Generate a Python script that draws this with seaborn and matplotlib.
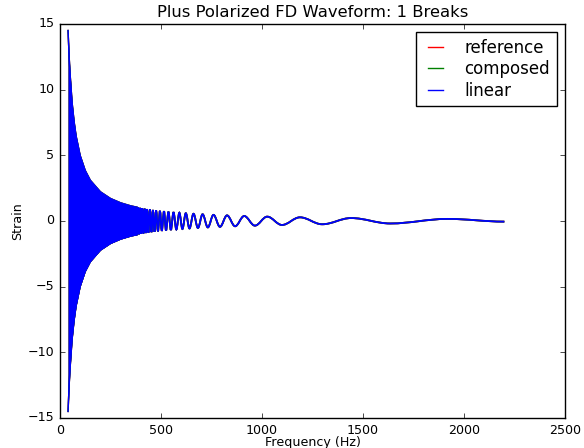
import matplotlib
matplotlib.use("Agg")
import matplotlib.pyplot as plt
from matplotlib.path import Path
from matplotlib.patches import PathPatch
import numpy as np
import pandas as pd
import seaborn as sns

# dense (unresolved) part of the chirp: upper envelope, symmetric about zero
band_freq = [40, 45, 50, 60, 70, 80, 100, 125, 150, 200, 250, 300, 350, 381]
band_amp = [14.5, 12.6, 11.2, 9.0, 7.55, 6.45, 4.98, 3.84, 3.10, 2.22, 1.71, 1.38, 1.15, 1.05]

# resolved oscillations: extrema (Hz, strain)
wave_freq = [381, 386, 391, 396, 401, 407, 413, 419, 425, 431, 438, 445, 453, 460,
             468, 476, 485, 495, 504, 515, 525, 537, 549, 562, 576, 591, 606, 623,
             641, 661, 683, 706, 732, 760, 792, 827, 867, 912, 965, 1026, 1099, 1188,
             1298, 1441, 1635, 1919, 2200]
wave_strain = [-1.046, 1.030, -1.015, 1.000, -0.985, 0.969, -0.952, 0.936, -0.921, 0.906,
               -0.889, 0.873, -0.855, 0.840, -0.823, 0.807, -0.789, 0.771, -0.755, 0.736,
               -0.720, 0.701, -0.683, 0.665, -0.646, 0.627, -0.609, 0.589, -0.570, 0.550,
               -0.529, 0.509, -0.488, 0.467, -0.445, 0.424, -0.401, 0.378, -0.354, 0.329,
               -0.304, 0.278, -0.250, 0.222, -0.191, 0.158, -0.05]

series_names = ["reference", "composed", "linear"]
series_colors = ["r", "g", "b"]


def smooth_wave_path(freq, strain, k=0.36):
    """Bezier path through the extrema, flat at every turning point."""
    verts = [(freq[0], strain[0])]
    codes = [Path.MOVETO]
    for i in range(1, len(freq)):
        d = freq[i] - freq[i - 1]
        verts += [(freq[i - 1] + k * d, strain[i - 1]),
                  (freq[i] - k * d, strain[i]),
                  (freq[i], strain[i])]
        codes += [Path.CURVE4] * 3
    return Path(verts, codes)


def make_plot():
    plt.style.use("classic")
    plt.rcParams["font.family"] = ["DejaVu Sans"]
    plt.rcParams["figure.facecolor"] = "white"
    plt.rcParams["savefig.facecolor"] = "white"

    fig = plt.figure(figsize=(5.84, 4.48), dpi=100)
    ax = fig.add_axes([0.1027, 0.067, 0.8647, 0.8795])

    band = pd.DataFrame({"freq": band_freq, "amp": band_amp})
    band["low"] = -band["amp"]

    for z, (name, col) in enumerate(zip(series_names, series_colors)):
        ax.fill_between(band["freq"], band["low"], band["amp"], color=col, lw=0, zorder=2 + z)
        sns.lineplot(data=band, x="freq", y="amp", color=col, lw=1.0, estimator=None,
                     label=name, zorder=2 + z, ax=ax)
        sns.lineplot(data=band, x="freq", y="low", color=col, lw=1.0, estimator=None,
                     zorder=2 + z, ax=ax)
        ax.add_patch(PathPatch(smooth_wave_path(wave_freq, wave_strain), fill=False,
                               edgecolor=col, lw=1.3, zorder=2 + z))

    ax.set_xlim(0, 2500)
    ax.set_ylim(-15, 15)
    ax.set_xticks(np.arange(0, 2501, 500))
    ax.set_yticks(np.arange(-15, 16, 5))
    ax.tick_params(labelsize=9.1, length=3.4, direction="in", top=True, right=True)
    ax.set_title("Plus Polarized FD Waveform: 1 Breaks", fontsize=11.8)
    ax.set_xlabel("Frequency (Hz)", fontsize=9.1, labelpad=-0.5)
    ax.set_ylabel("Strain", fontsize=9.1, labelpad=3)
    ax.legend(loc="upper right", fontsize=12, handlelength=1.5, handletextpad=1.0,
              labelspacing=0.2, borderpad=0.4, fancybox=False)

    fig.savefig("out.png", dpi=100)


if __name__ == "__main__":
    make_plot()
